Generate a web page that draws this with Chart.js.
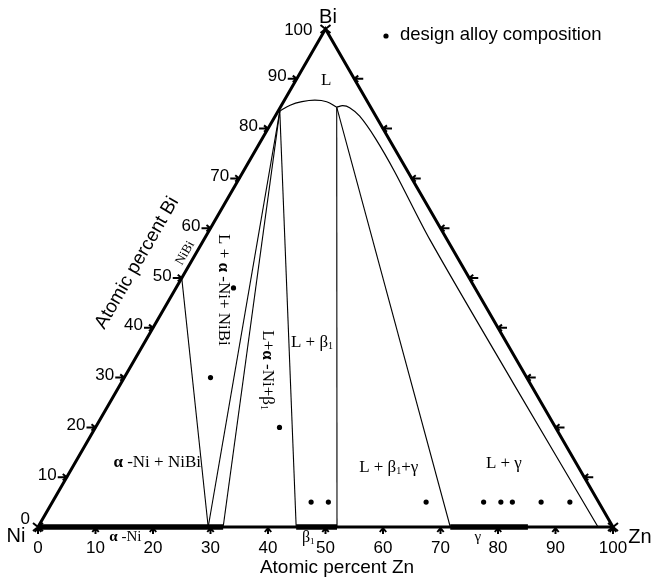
<!DOCTYPE html>
<html><head><meta charset="utf-8">
<script src="https://cdn.jsdelivr.net/npm/chart.js@4/dist/chart.umd.min.js"></script>
<style>html,body{margin:0;padding:0;background:#fff}canvas{display:block}</style>
</head><body>
<canvas id="c" width="652" height="581"></canvas>
<script>
// All compositions are ternary: [Zn at.%, Bi at.%] (Ni = remainder)
const corners = [[0,0],[100,0],[0,100]]; // Ni, Zn, Bi
const cornerNames = ['Ni','Zn','Bi'];
const tickValues = [0,10,20,30,40,50,60,70,80,90,100];
const tickLabels = ['0','10','20','30','40','50','60','70','80','90','100'];
const liquidusDome = [[0.3,83.5],[1.5,84.7],[3.2,85.4],[5.3,85.7],[7.5,85.4],[9.8,84.3]];
const liquidusRight = [[9.8,84.3],[10.7,84.6],[12.1,84.2],[14.7,82.5],[19.6,78.1],[26.4,71.3],[39.4,57.6],[68.4,28.7],[97.4,0]];
const tieLines = [
  [[0,50],[29.6,0]],
  [[0.3,83.5],[29.6,0]],
  [[0.3,83.5],[32.2,0]],
  [[0.3,83.5],[44.9,0]],
  [[9.8,84.3],[52.0,0]],
  [[9.8,84.3],[71.7,0]]
];
const singlePhaseRanges = [[0,32.2],[44.9,52.0],[71.7,85.2]]; // α-Ni, β1, γ on the Ni–Zn side
const alloyZn = [10,15,32,45,48,65,75,78,80,85,90];
const alloyBi = [48,30,20,5,5,5,5,5,5,5,5];
const legendText = 'design alloy composition';
const axisTitleZn = 'Atomic percent Zn';
const axisTitleBi = 'Atomic percent Bi';

const S = Math.sqrt(3)/2;
const toXY = ([z,b]) => ({x: z + b/2, y: b*S});
const lineDs = (pts, w, extra) => Object.assign({
  type:'scatter', data: pts.map(toXY), showLine:true, borderColor:'#000',
  borderWidth:w, pointRadius:0, fill:false, clip:false
}, extra||{});

const SANS = '"Liberation Sans", Arial, sans-serif';
const SERIF = '"Liberation Serif", "Times New Roman", serif';

function rich(ctx, segs, x, y, angle){
  ctx.save(); ctx.translate(x,y); ctx.rotate(angle||0);
  ctx.textBaseline='middle'; ctx.textAlign='left'; ctx.fillStyle='#000';
  let w=0; segs.forEach(s=>{ctx.font=s[1]; w+=ctx.measureText(s[0]).width;});
  let cx=-w/2;
  segs.forEach(s=>{ctx.font=s[1]; ctx.fillText(s[0],cx,s[2]||0); cx+=ctx.measureText(s[0]).width;});
  ctx.restore();
}
function arrowTick(ctx, x, y, dx, dy, len){
  ctx.beginPath();
  ctx.moveTo(x-dx*len, y-dy*len); ctx.lineTo(x,y);
  const px=-dy, py=dx;
  ctx.moveTo(x-dx*4+px*3.2, y-dy*4+py*3.2); ctx.lineTo(x,y); ctx.lineTo(x-dx*4-px*3.2, y-dy*4-py*3.2);
  ctx.stroke();
}

const decor = {
  id:'decor',
  afterDatasetsDraw(chart){
    const ctx = chart.ctx, xs = chart.scales.x, ys = chart.scales.y;
    const P = (z,b) => [xs.getPixelForValue(z+b/2), ys.getPixelForValue(b*S)];
    ctx.save();
    ctx.strokeStyle='#000'; ctx.fillStyle='#000'; ctx.lineWidth=2; ctx.lineCap='butt';
    // ticks
    tickValues.forEach(k=>{
      if(k>0 && k<100){
        let [x,y]=P(0,k); arrowTick(ctx,x,y,1,0,9);
        [x,y]=P(k,100-k); arrowTick(ctx,x,y,-1,0,9);
      }
      let [x,y]=P(k,0); arrowTick(ctx,x,y+1,0,-1,6);
    });
    // corner crosses
    corners.forEach(c=>{
      const [x,y]=P(c[0],c[1]);
      ctx.beginPath(); ctx.moveTo(x-5,y-4); ctx.lineTo(x+5,y+4); ctx.moveTo(x-5,y+4); ctx.lineTo(x+5,y-4); ctx.stroke();
    });
    // tick labels
    ctx.font='17px '+SANS; ctx.textBaseline='middle';
    tickValues.forEach((k,i)=>{
      let [x,y]=P(k,0);
      ctx.textAlign='center'; ctx.fillText(tickLabels[i], x, y+21);
      [x,y]=P(0,k);
      ctx.textAlign='right';
      if(k===0) ctx.fillText(tickLabels[i], x-8, y-8);
      else if(k===100) ctx.fillText(tickLabels[i], x-13, y+1);
      else ctx.fillText(tickLabels[i], x-10, y-2);
    });
    // corner names
    ctx.font='20px '+SANS; ctx.textAlign='center';
    let [x,y]=P(0,100); ctx.fillText(cornerNames[2], x+2.5, y-12);
    [x,y]=P(0,0); ctx.fillText(cornerNames[0], x-22, y+9);
    [x,y]=P(100,0); ctx.fillText(cornerNames[1], x+27, y+10);
    // axis titles
    ctx.font='19px '+SANS;
    [x,y]=P(52,0); ctx.fillText(axisTitleZn, x, y+41);
    rich(ctx, [[axisTitleBi,'19px '+SANS]], 137, 263, -Math.PI/3);
    // legend
    ctx.beginPath(); ctx.arc(386,36,2.6,0,Math.PI*2); ctx.fill();
    ctx.font='18.5px '+SANS; ctx.textAlign='left'; ctx.fillText(legendText, 400, 35);
    // region labels
    const F = '17px '+SERIF, FB = 'bold 17px '+SERIF, FS = '10px '+SERIF;
    [x,y]=P(5.3,89.6); rich(ctx, [['L',F]], x, y);
    [x,y]=P(29.1,37.1); rich(ctx, [['L + β',F],['1',FS,4]], x, y);
    [x,y]=P(55.0,12.0); rich(ctx, [['L + β',F],['1',FS,4],['+γ',F]], x, y);
    [x,y]=P(74.7,12.65); rich(ctx, [['L + γ',F]], x, y);
    [x,y]=P(14.3,12.85); rich(ctx, [['α',FB],[' -Ni + NiBi',F]], x, y);
    [x,y]=P(8.4,47.6); rich(ctx, [['L + ',F],['α',FB],[' -Ni+ NiBi',F]], x, y, Math.PI/2);
    [x,y]=P(24.1,31.5); rich(ctx, [['L+',F],['α',FB],[' -Ni+β',F],['1',FS,4]], x, y, Math.PI/2);
    [x,y]=P(-1.9,55.0); rich(ctx, [['NiBi','13px '+SERIF]], x, y, -Math.PI/3);
    // single-phase labels under base
    [x,y]=P(15.2,0); rich(ctx, [['α','bold 15px '+SERIF],[' -Ni','15px '+SERIF]], x, y+10);
    [x,y]=P(47.0,0); rich(ctx, [['β','16px '+SERIF],['1','9px '+SERIF,4]], x, y+11);
    [x,y]=P(76.5,0); rich(ctx, [['γ','15px '+SERIF]], x, y+10);
    ctx.restore();
  }
};

const datasets = [
  lineDs([...corners, corners[0]], 3, {borderJoinStyle:'miter'}),
  ...singlePhaseRanges.map(r => lineDs([[r[0],0],[r[1],0]], 5.5, {borderCapStyle:'butt'})),
  lineDs(liquidusDome, 1.2, {tension:0.4}),
  lineDs(liquidusRight, 1.2, {tension:0.3}),
  ...tieLines.map(t => lineDs(t, 1.1)),
  {type:'scatter', data: alloyZn.map((z,i)=>toXY([z, alloyBi[i]])), pointRadius:2.6, pointBackgroundColor:'#000', pointBorderWidth:0, showLine:false, clip:false}
];

new Chart(document.getElementById('c'), {
  type:'scatter',
  data:{datasets},
  options:{
    responsive:false, animation:false, devicePixelRatio:1,
    layout:{padding:{left:38, right:39, top:29, bottom:54}},
    scales:{
      x:{type:'linear', min:0, max:100, display:false},
      y:{type:'linear', min:0, max:100*S, display:false}
    },
    plugins:{legend:{display:false}, tooltip:{enabled:false}}
  },
  plugins:[decor]
});
</script>
</body></html>
